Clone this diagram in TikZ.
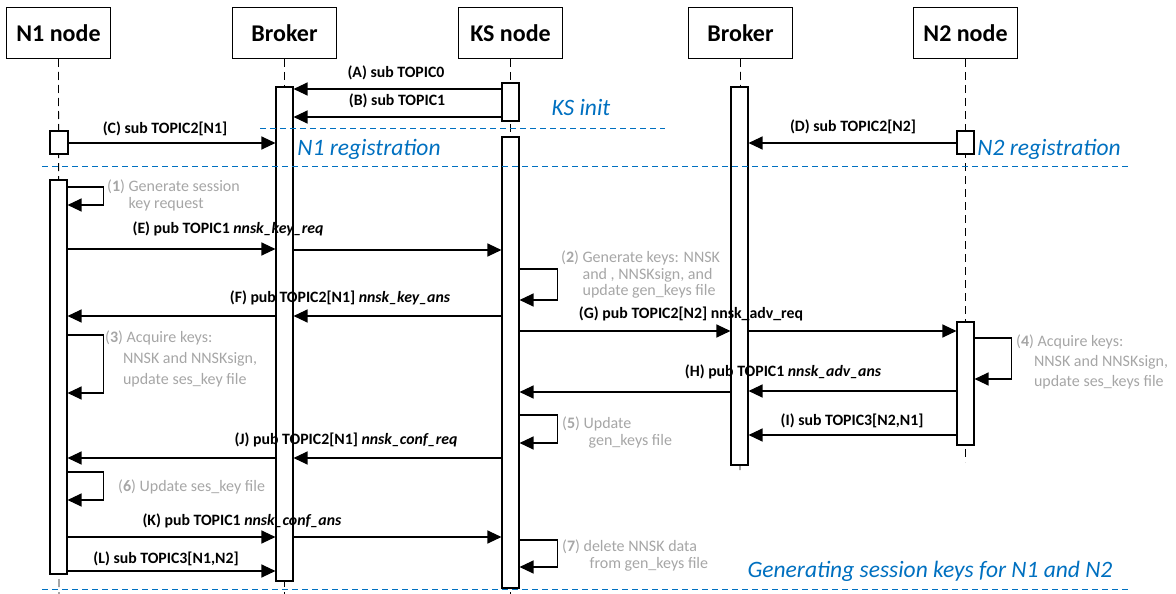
\documentclass[tikz,border=0pt]{standalone}
\usepackage{fontspec}
\setmainfont{Carlito}
\usetikzlibrary{arrows.meta,fit}
\definecolor{phaseblue}{HTML}{0070C0}
\definecolor{notegray}{HTML}{A6A6A6}
\begin{document}
\begin{tikzpicture}[x=1pt,y=-1pt,
  head/.style={draw,line width=1pt,minimum width=104pt,minimum height=51pt,inner sep=0pt,
    font=\fontsize{24}{26}\selectfont\bfseries},
  bar/.style={draw,fill=white,line width=1.1pt,inner sep=0pt},
  life/.style={line width=0.9pt,dash pattern=on 8pt off 5pt},
  msg/.style={line width=1.2pt,-{Triangle[length=14pt,width=13pt]}},
  lbl/.style={inner sep=0pt,font=\fontsize{15.8}{17}\selectfont\bfseries},
  note/.style={inner sep=0pt,anchor=north west,align=left,text=notegray,
    font=\fontsize{16}{17}\selectfont},
  phase/.style={inner sep=0pt,text=phaseblue,font=\fontsize{23.5}{25}\selectfont\itshape},
  sep/.style={phaseblue,line width=1.1pt,dash pattern=on 6pt off 4pt}]
\useasboundingbox (0,0) rectangle (1176,594);

% participants
\node[head] (n1) at (58.5,33) {N1 node};
\node[head] (b1) at (284.5,33) {Broker};
\node[head] (ks) at (510.5,33) {KS node};
\node[head] (b2) at (740.5,33) {Broker};
\node[head] (n2) at (965.5,33) {N2 node};

% lifelines
\coordinate (n1end) at (59,594);
\coordinate (b1end) at (284.5,594);
\coordinate (ksend) at (510.5,594);
\coordinate (b2end) at (740,472);
\coordinate (n2end) at (965.5,462);
\draw[life] (n1.south) -- (n1end);
\draw[life] (b1.south) -- (b1end);
\draw[life] (ks.south) -- (ksend);
\draw[life] (b2.south) -- (b2end);
\draw[life] (n2.south) -- (n2end);

% activation bars
\node[bar,fit={(276,87)(293,581)}] (b1bar) {};
\node[bar,fit={(502,83)(519,121)}] (ksbarA) {};
\node[bar,fit={(502,137)(519,588)}] (ksbarB) {};
\node[bar,fit={(50,131)(68,154)}] (n1barA) {};
\node[bar,fit={(50,180)(67,574)}] (n1barB) {};
\node[bar,fit={(731,87)(748,465)}] (b2bar) {};
\node[bar,fit={(957,131)(974,154)}] (n2barA) {};
\node[bar,fit={(957,322)(974,445)}] (n2barB) {};

% phase separators
\draw[sep] (260,128.5) -- (665,128.5);
\draw[sep] (42,166.5) -- (1130,166.5);
\draw[sep] (42,589.5) -- (1130,589.5);

% phase titles
\node[phase] (tksinit) at (581,108) {KS init};
\node[phase] (tn1reg) at (369,149) {N1 registration};
\node[phase] (tn2reg) at (1049,149) {N2 registration};
\node[phase] (tgen) at (930,571) {Generating session keys for N1 and N2};

% initialisation and registration
\node[lbl] (lA) at (396,73) {(A) sub TOPIC0};
\draw[msg] (ksbarA.west |- 0,89) -- (b1bar.east |- 0,89);
\node[lbl] (lB) at (397,101) {(B) sub TOPIC1};
\draw[msg] (ksbarA.west |- 0,117) -- (b1bar.east |- 0,117);
\node[lbl] (lC) at (165,129) {(C) sub TOPIC2[N1]};
\draw[msg] (n1barA.east |- 0,143) -- (b1bar.west |- 0,143);
\node[lbl] (lD) at (853,127) {(D) sub TOPIC2[N2]};
\draw[msg] (n2barA.west |- 0,143) -- (b2bar.east |- 0,143);

% (1)
\draw[msg] (n1barB.east |- 0,187) -- ++(36,0) -- ++(0,18) -- (n1barB.east |- 0,205);
\node[note] (s1) at (107,180) {(\textbf{1}) Generate session\\\phantom{(\textbf{1}) }key request};

% (E)
\node[lbl] (lE) at (228,229) {(E) pub TOPIC1 \textit{nnsk\_key\_req}};
\draw[msg] (n1barB.east |- 0,249) -- (b1bar.west |- 0,249);
\draw[msg] (b1bar.east |- 0,250) -- (ksbarB.west |- 0,250);

% (2)
\draw[msg] (ksbarB.east |- 0,269) -- ++(38,0) -- ++(0,31) -- (ksbarB.east |- 0,300);
\node[note,font=\fontsize{16}{16.3}\selectfont] (s2) at (561,251) {(\textbf{2}) Generate keys: NNSK\\\phantom{(\textbf{2}) }and , NNSKsign, and\\\phantom{(\textbf{2}) }update gen\_keys file};

% (F)
\node[lbl] (lF) at (340,298) {(F) pub TOPIC2[N1] \textit{nnsk\_key\_ans}};
\draw[msg] (ksbarB.west |- 0,316) -- (b1bar.east |- 0,316);
\draw[msg] (b1bar.west |- 0,316) -- (n1barB.east |- 0,316);

% (G)
\node[lbl] (lG) at (691,314) {(G) pub TOPIC2[N2] nnsk\_adv\_req};
\draw[msg] (ksbarB.east |- 0,331) -- (b2bar.west |- 0,331);
\draw[msg] (b2bar.east |- 0,331) -- (n2barB.west |- 0,331);

% (3)
\draw[msg] (n1barB.east |- 0,335) -- ++(36,0) -- ++(0,58) -- (n1barB.east |- 0,393);
\node[note,font=\fontsize{16}{21}\selectfont] (s3) at (105,331) {(\textbf{3}) Acquire keys:\\\phantom{(\textbf{3})}NNSK and NNSKsign,\\\phantom{(\textbf{3})}update ses\_key file};

% (4)
\draw[msg] (n2barB.east |- 0,338) -- ++(37,0) -- ++(0,41) -- (n2barB.east |- 0,379);
\node[note,font=\fontsize{16}{20}\selectfont] (s4) at (1016,335) {(\textbf{4}) Acquire keys:\\\phantom{(\textbf{4})}NNSK and NNSKsign,\\\phantom{(\textbf{4})}update ses\_keys file};

% (H)
\node[lbl] (lH) at (783,372) {(H) pub TOPIC1 \textit{nnsk\_adv\_ans}};
\draw[msg] (n2barB.west |- 0,391) -- (b2bar.east |- 0,391);
\draw[msg] (b2bar.west |- 0,392) -- (ksbarB.east |- 0,392);

% (5)
\draw[msg] (ksbarB.east |- 0,415) -- ++(38,0) -- ++(0,28) -- (ksbarB.east |- 0,443);
\node[note] (s5) at (562,417) {(\textbf{5}) Update\\\phantom{(\textbf{5}) }\hspace{5pt}gen\_keys file};

% (I)
\node[lbl] (lI) at (852,421) {(I) sub TOPIC3[N2,N1]};
\draw[msg] (n2barB.west |- 0,435) -- (b2bar.east |- 0,435);

% (J)
\node[lbl] (lJ) at (346,440) {(J) pub TOPIC2[N1] \textit{nnsk\_conf\_req}};
\draw[msg] (ksbarB.west |- 0,458) -- (b1bar.east |- 0,458);
\draw[msg] (b1bar.west |- 0,458) -- (n1barB.east |- 0,458);

% (6)
\draw[msg] (n1barB.east |- 0,472) -- ++(36,0) -- ++(0,28) -- (n1barB.east |- 0,500);
\node[note] (s6) at (118,480) {(\textbf{6}) Update ses\_key file};

% (K)
\node[lbl] (lK) at (242,521) {(K) pub TOPIC1 \textit{nnsk\_conf\_ans}};
\draw[msg] (n1barB.east |- 0,537) -- (b1bar.west |- 0,537);
\draw[msg] (b1bar.east |- 0,537) -- (ksbarB.west |- 0,537);

% (7)
\draw[msg] (ksbarB.east |- 0,540) -- ++(38,0) -- ++(0,27) -- (ksbarB.east |- 0,567);
\node[note] (s7) at (562,540) {(\textbf{7}) delete NNSK data\\\phantom{(\textbf{7}) }\hspace{6pt}from gen\_keys file};

% (L)
\node[lbl] (lL) at (166,559) {(L) sub TOPIC3[N1,N2]};
\draw[msg] (n1barB.east |- 0,571) -- (b1bar.west |- 0,571);
\end{tikzpicture}
\end{document}
